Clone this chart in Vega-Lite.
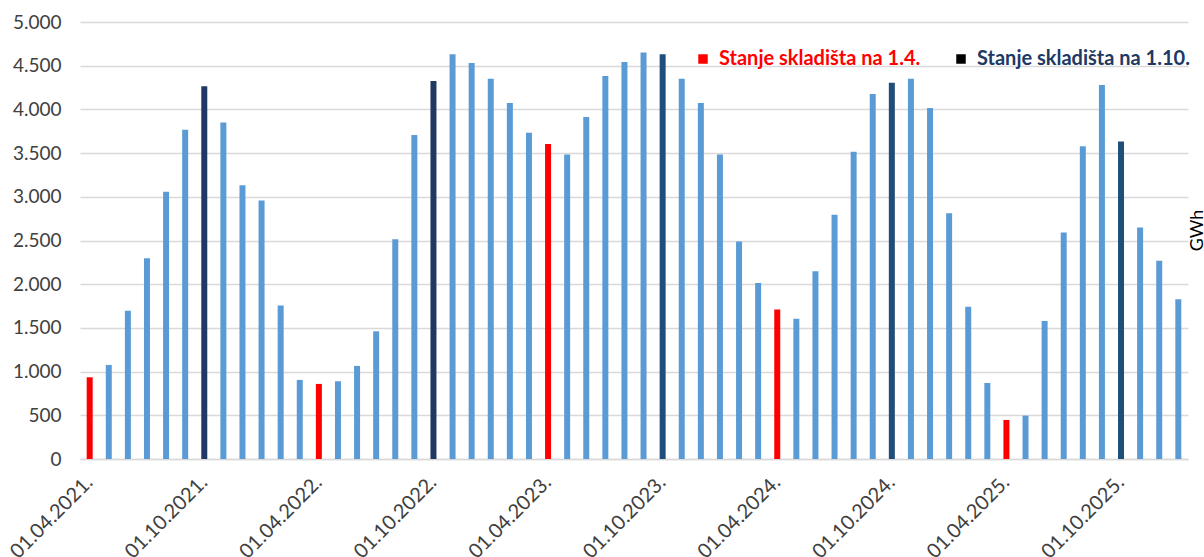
{
  "$schema": "https://vega.github.io/schema/vega-lite/v6.json",
  "width": 1108,
  "height": 437,
  "autosize": {"type": "none"},
  "padding": {"left": 80, "top": 22, "right": 16, "bottom": 98},
  "background": "white",
  "config": {"view": {"stroke": null}, "font": "Lato"},
  "data": {
    "values": [
      {"datum": "01.04.2021.", "gwh": 935, "tip": "a"},
      {"datum": "01.05.2021.", "gwh": 1076, "tip": "m"},
      {"datum": "01.06.2021.", "gwh": 1695, "tip": "m"},
      {"datum": "01.07.2021.", "gwh": 2297, "tip": "m"},
      {"datum": "01.08.2021.", "gwh": 3058, "tip": "m"},
      {"datum": "01.09.2021.", "gwh": 3768, "tip": "m"},
      {"datum": "01.10.2021.", "gwh": 4264, "tip": "o"},
      {"datum": "01.11.2021.", "gwh": 3851, "tip": "m"},
      {"datum": "01.12.2021.", "gwh": 3133, "tip": "m"},
      {"datum": "01.01.2022.", "gwh": 2958, "tip": "m"},
      {"datum": "01.02.2022.", "gwh": 1756, "tip": "m"},
      {"datum": "01.03.2022.", "gwh": 905, "tip": "m"},
      {"datum": "01.04.2022.", "gwh": 859, "tip": "a"},
      {"datum": "01.05.2022.", "gwh": 889, "tip": "m"},
      {"datum": "01.06.2022.", "gwh": 1065, "tip": "m"},
      {"datum": "01.07.2022.", "gwh": 1461, "tip": "m"},
      {"datum": "01.08.2022.", "gwh": 2515, "tip": "m"},
      {"datum": "01.09.2022.", "gwh": 3706, "tip": "m"},
      {"datum": "01.10.2022.", "gwh": 4324, "tip": "o"},
      {"datum": "01.11.2022.", "gwh": 4630, "tip": "m"},
      {"datum": "01.12.2022.", "gwh": 4530, "tip": "m"},
      {"datum": "01.01.2023.", "gwh": 4352, "tip": "m"},
      {"datum": "01.02.2023.", "gwh": 4072, "tip": "m"},
      {"datum": "01.03.2023.", "gwh": 3733, "tip": "m"},
      {"datum": "01.04.2023.", "gwh": 3603, "tip": "a"},
      {"datum": "01.05.2023.", "gwh": 3485, "tip": "m"},
      {"datum": "01.06.2023.", "gwh": 3912, "tip": "m"},
      {"datum": "01.07.2023.", "gwh": 4382, "tip": "m"},
      {"datum": "01.08.2023.", "gwh": 4542, "tip": "m"},
      {"datum": "01.09.2023.", "gwh": 4650, "tip": "m"},
      {"datum": "01.10.2023.", "gwh": 4630, "tip": "o2"},
      {"datum": "01.11.2023.", "gwh": 4352, "tip": "m"},
      {"datum": "01.12.2023.", "gwh": 4072, "tip": "m"},
      {"datum": "01.01.2024.", "gwh": 3485, "tip": "m"},
      {"datum": "01.02.2024.", "gwh": 2489, "tip": "m"},
      {"datum": "01.03.2024.", "gwh": 2015, "tip": "m"},
      {"datum": "01.04.2024.", "gwh": 1710, "tip": "a"},
      {"datum": "01.05.2024.", "gwh": 1605, "tip": "m"},
      {"datum": "01.06.2024.", "gwh": 2148, "tip": "m"},
      {"datum": "01.07.2024.", "gwh": 2794, "tip": "m"},
      {"datum": "01.08.2024.", "gwh": 3516, "tip": "m"},
      {"datum": "01.09.2024.", "gwh": 4175, "tip": "m"},
      {"datum": "01.10.2024.", "gwh": 4306, "tip": "o2"},
      {"datum": "01.11.2024.", "gwh": 4352, "tip": "m"},
      {"datum": "01.12.2024.", "gwh": 4015, "tip": "m"},
      {"datum": "01.01.2025.", "gwh": 2813, "tip": "m"},
      {"datum": "01.02.2025.", "gwh": 1741, "tip": "m"},
      {"datum": "01.03.2025.", "gwh": 870, "tip": "m"},
      {"datum": "01.04.2025.", "gwh": 447, "tip": "a"},
      {"datum": "01.05.2025.", "gwh": 496, "tip": "m"},
      {"datum": "01.06.2025.", "gwh": 1580, "tip": "m"},
      {"datum": "01.07.2025.", "gwh": 2592, "tip": "m"},
      {"datum": "01.08.2025.", "gwh": 3577, "tip": "m"},
      {"datum": "01.09.2025.", "gwh": 4279, "tip": "m"},
      {"datum": "01.10.2025.", "gwh": 3634, "tip": "o2"},
      {"datum": "01.11.2025.", "gwh": 2649, "tip": "m"},
      {"datum": "01.12.2025.", "gwh": 2267, "tip": "m"},
      {"datum": "01.01.2026.", "gwh": 1828, "tip": "m"}
    ]
  },
  "encoding": {
    "x": {
      "field": "datum",
      "type": "ordinal",
      "sort": null,
      "scale": {"paddingInner": 0.686, "paddingOuter": 0.35},
      "axis": {
        "title": null,
        "labelAngle": -45,
        "labelAlign": "right",
        "labelBaseline": "middle",
        "labelExpr": "(slice(datum.value,3,5)=='04' || slice(datum.value,3,5)=='10') ? datum.value : ''",
        "labelOverlap": false,
        "labelFontSize": 20,
        "labelColor": "#404040",
        "labelPadding": 20,
        "ticks": false,
        "domain": true,
        "domainColor": "#D9D9D9",
        "domainWidth": 1.5
      }
    }
  },
  "layer": [
    {
      "mark": {"type": "bar"},
      "encoding": {
        "y": {
          "field": "gwh",
          "type": "quantitative",
          "scale": {"domain": [0, 5000], "nice": false},
          "axis": {
            "title": null,
            "values": [0, 500, 1000, 1500, 2000, 2500, 3000, 3500, 4000, 4500, 5000],
            "labelExpr": "replace(format(datum.value, ','), ',', '.')",
            "domain": false,
            "ticks": false,
            "labelPadding": 19,
            "labelFontSize": 19,
            "labelColor": "#404040",
            "grid": true,
            "gridColor": "#D9D9D9",
            "gridWidth": 1.5
          }
        },
        "color": {
          "field": "tip",
          "type": "nominal",
          "scale": {
            "domain": ["a", "o", "o2", "m"],
            "range": ["#FF0000", "#203864", "#1F4E79", "#5B9BD5"]
          },
          "legend": null
        }
      }
    },
    {
      "transform": [{"filter": "datum.gwh < 0"}],
      "mark": {"type": "bar"},
      "encoding": {
        "y": {
          "field": "gwh",
          "type": "quantitative",
          "axis": {
            "orient": "right",
            "title": "GWh",
            "titleAngle": -90,
            "titleX": 9,
            "titleY": 208,
            "titleAlign": "center",
            "titleBaseline": "middle",
            "titleFontSize": 18,
            "titleFontWeight": "normal",
            "titleColor": "#000000",
            "labels": false,
            "ticks": false,
            "domain": false,
            "grid": false
          }
        },
        "fill": {
          "field": "tip",
          "type": "nominal",
          "scale": {"domain": ["a", "o"], "range": ["#FF0000", "#000000"]},
          "legend": {
            "orient": "none",
            "legendX": 613,
            "legendY": 27,
            "direction": "horizontal",
            "title": null,
            "labelExpr": "datum.value == 'a' ? 'Stanje skladišta na 1.4.' : 'Stanje skladišta na 1.10.'",
            "symbolType": "square",
            "symbolSize": 90,
            "symbolStrokeWidth": 0,
            "labelFontSize": 20,
            "labelFontWeight": "bold",
            "labelOffset": 6,
            "columnPadding": 30,
            "padding": 0,
            "labelLimit": 400,
            "encode": {
              "labels": {"update": {"fill": {"signal": "datum.value == 'a' ? '#FF0000' : '#203864'"}}}
            }
          }
        }
      }
    }
  ],
  "resolve": {"axis": {"y": "independent"}}
}
